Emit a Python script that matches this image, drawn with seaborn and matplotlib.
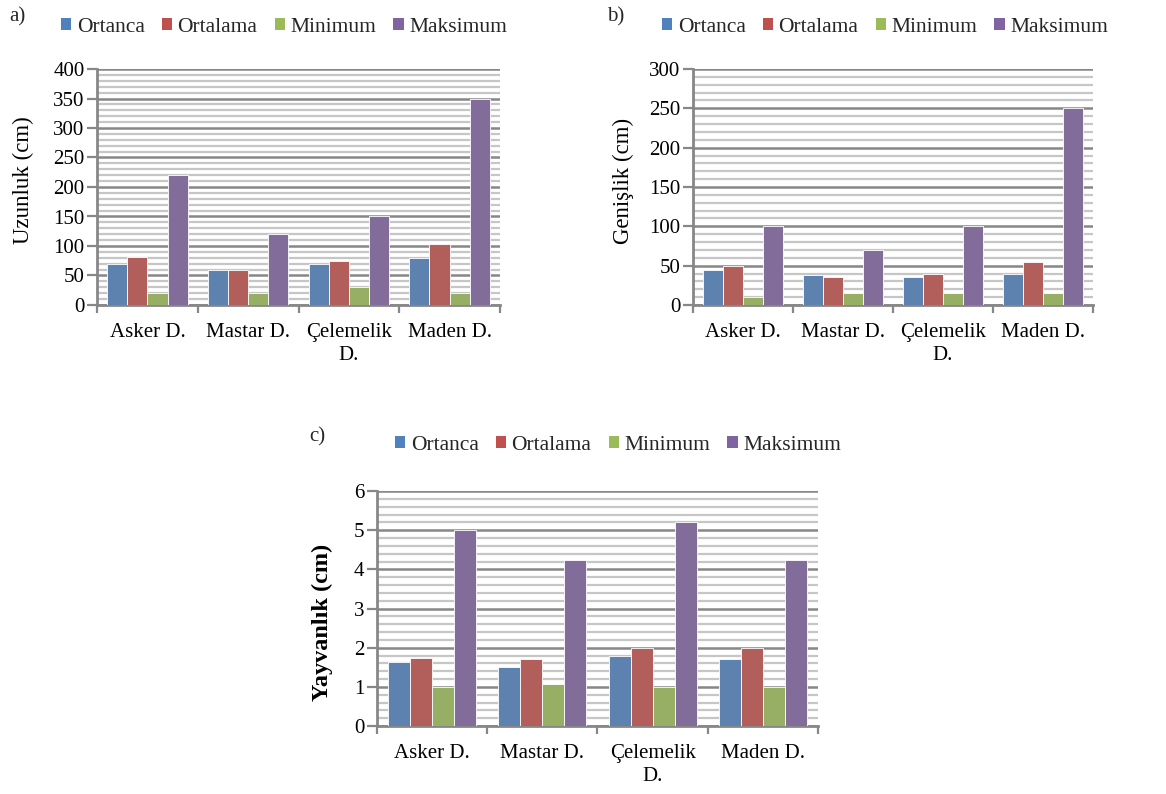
import matplotlib
matplotlib.use("Agg")
import matplotlib.pyplot as plt
import seaborn as sns
import pandas as pd
from matplotlib.ticker import MultipleLocator
from matplotlib.patches import Patch

categories = ["Asker D.", "Mastar D.", "Çelemelik\nD.", "Maden D."]
series = ["Ortanca", "Ortalama", "Minimum", "Maksimum"]
colors = ["#4F81BD", "#C0504D", "#9BBB59", "#8064A2"]

# Panel a: Uzunluk (cm)
a_ortanca = [70, 60, 70, 80]
a_ortalama = [81, 59, 74, 103]
a_minimum = [20, 20, 30, 20]
a_maksimum = [220, 120, 150, 350]

# Panel b: Genişlik (cm)
b_ortanca = [45, 38, 35, 40]
b_ortalama = [49, 36, 39, 55]
b_minimum = [10, 15, 15, 15]
b_maksimum = [100, 70, 100, 250]

# Panel c: Yayvanlık (cm)
c_ortanca = [1.63, 1.50, 1.80, 1.72]
c_ortalama = [1.74, 1.70, 2.00, 1.98]
c_minimum = [1.00, 1.07, 1.00, 1.00]
c_maksimum = [5.00, 4.25, 5.20, 4.25]

sns.set_theme(style="white")
plt.rcParams["font.family"] = ["Liberation Serif", "DejaVu Serif"]

W, H = 1166, 794
fig = plt.figure(figsize=(W / 100, H / 100), dpi=100)


def long_df(vals):
    rows = []
    for s, v in zip(series, vals):
        for c, x in zip(categories, v):
            rows.append({"Kategori": c, "Seri": s, "Deger": x})
    return pd.DataFrame(rows)


def box(l, t, r, b):
    return [l / W, 1 - b / H, (r - l) / W, (b - t) / H]


major_c = "#878787"
minor_c = "#c6c6c6"
fs_tick = 15
fs_leg = 15.5


def panel(rect, vals, ymax, major, minor, ylabel, ybold, ylab_fs, letter, letter_xy,
          leg_center, ylab_xy):
    ax = fig.add_axes(rect)
    df = long_df(vals)
    sns.barplot(data=df, x="Kategori", y="Deger", hue="Seri", order=categories,
                hue_order=series, palette=colors, width=0.8, ax=ax,
                edgecolor="white", linewidth=0.6, legend=False, zorder=3)
    ax.set_xlim(-0.5, 3.5)
    ax.set_ylim(0, ymax)
    ax.yaxis.set_major_locator(MultipleLocator(major))
    ax.yaxis.set_minor_locator(MultipleLocator(minor))
    ax.set_axisbelow(True)
    ax.grid(True, which="minor", axis="y", color=minor_c, lw=1.6, zorder=0)
    ax.grid(True, which="major", axis="y", color=major_c, lw=1.8, zorder=1)
    ax.grid(False, axis="x")
    for s in ["top", "right"]:
        ax.spines[s].set_visible(False)
    for s in ["left", "bottom"]:
        ax.spines[s].set_color(major_c)
        ax.spines[s].set_linewidth(2)
    ax.tick_params(axis="y", which="major", length=7, width=1.6, color=major_c,
                   direction="out", left=True, labelsize=fs_tick, pad=2, labelcolor="black")
    ax.tick_params(axis="y", which="minor", length=0)
    ax.set_xticks(range(4))
    ax.set_xticklabels(categories, fontsize=fs_tick, linespacing=1.3)
    ax.tick_params(axis="x", which="major", length=0, pad=13, labelcolor="black")
    ax.set_xticks([-0.5, 0.5, 1.5, 2.5, 3.5], minor=True)
    ax.tick_params(axis="x", which="minor", length=6, width=1.6, color=major_c,
                   direction="out", bottom=True)
    ax.set_xlabel("")
    ax.set_ylabel(ylabel, fontsize=ylab_fs, fontweight="bold" if ybold else "normal",
                  color="black", va="center")
    ax.yaxis.set_label_coords((ylab_xy[0] - rect[0] * W) / (rect[2] * W),
                              ((1 - rect[1]) * H - ylab_xy[1]) / (rect[3] * H))
    handles = [Patch(facecolor=c, edgecolor="none") for c in colors]
    lx = (leg_center[0] - rect[0] * W) / (rect[2] * W)
    ly = ((1 - rect[1]) * H - leg_center[1]) / (rect[3] * H)
    ax.legend(handles, series, loc="center", bbox_to_anchor=(lx, ly), ncol=4,
              frameon=False, fontsize=fs_leg, handlelength=0.48, handleheight=0.48,
              handletextpad=0.25, columnspacing=0.8, borderpad=0)
    fig.text(letter_xy[0] / W, 1 - letter_xy[1] / H, letter, fontsize=fs_tick,
             ha="left", va="center")
    return ax


panel(box(97, 69, 500, 305), [a_ortanca, a_ortalama, a_minimum, a_maksimum],
      400, 50, 10, "Uzunluk (cm)", False, 16.5, "a)", (9, 17), (284, 27), (23, 180))
panel(box(693, 69, 1093, 305), [b_ortanca, b_ortalama, b_minimum, b_maksimum],
      300, 50, 10, "Genişlik (cm)", False, 16.5, "b)", (607, 17), (885, 27), (623, 181))
panel(box(377, 491, 818, 726), [c_ortanca, c_ortalama, c_minimum, c_maksimum],
      6, 1, 0.2, "Yayvanlık (cm)", True, 17.5, "c)", (309, 437), (618, 445), (322, 622))

fig.savefig("out.png", dpi=100)
